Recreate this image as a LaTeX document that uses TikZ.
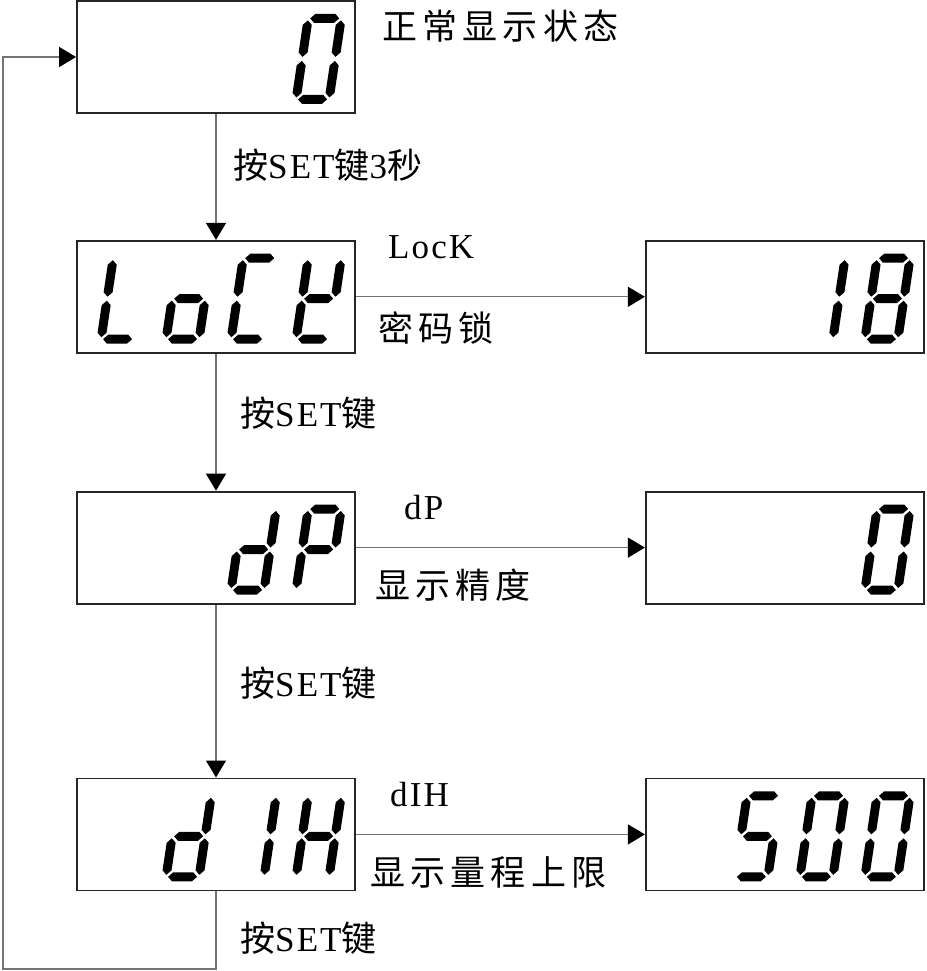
\documentclass[tikz,border=0pt]{standalone}
\usepackage{fontspec}
\setmainfont{Liberation Serif}[LetterSpace=6]
\newfontfamily\cjk{Noto Sans CJK SC}[LetterSpace=15]
\usepackage{tikz}
\usetikzlibrary{positioning,arrows.meta}
\tikzset{>={Triangle[length=17pt,width=20pt,color=black]}}

% one segment of the display, horizontal and vertical
\newcommand\hseg[3]{\fill (#1,#3) -- ++(4.5,4.5) -- ({#2-4.5},{#3+4.5}) -- (#2,#3) -- ({#2-4.5},{#3-4.5}) -- ({#1+4.5},{#3-4.5}) -- cycle;}
\newcommand\vseg[3]{\fill (#1,#2) -- ++(4.5,4.5) -- ({#1+4.5},{#3-4.5}) -- (#1,#3) -- ({#1-4.5},{#3-4.5}) -- ({#1-4.5},{#2+4.5}) -- cycle;}
\newcommand\lcdsega{\hseg{6.5}{35.5}{85.5}}
\newcommand\lcdsegb{\vseg{37.5}{47}{83.5}}
\newcommand\lcdsegc{\vseg{37.5}{6.5}{43}}
\newcommand\lcdsegd{\hseg{6.5}{35.5}{4.5}}
\newcommand\lcdsege{\vseg{4.5}{6.5}{43}}
\newcommand\lcdsegf{\vseg{4.5}{47}{83.5}}
\newcommand\lcdsegg{\hseg{6.5}{35.5}{45}}
% #1 box, #2 place counted from the right, #3 lit segments
\newcommand\lcd[3]{%
  \begin{scope}[shift={(#1.south east)},xshift={-65pt-65pt*#2},yshift=10pt,xslant=0.15]
    \foreach \s in {#3}{\csname lcdseg\s\endcsname}
  \end{scope}}
\newcommand\presset{{\cjk 按}SET{\cjk 键}}

\begin{document}
\begin{tikzpicture}[x=1pt,y=1pt,
lcdbox/.style={rectangle, draw=black!85, line width=1.8pt, minimum width=278pt, minimum height=112pt},
lbl/.style={anchor=west, inner sep=0pt, font=\fontsize{35}{40}\selectfont},
flow/.style={->, draw=black!55, line width=1.2pt},
]
\useasboundingbox (0,0) rectangle (926,-971);
%Nodes
\node[lcdbox](disp0) at (216,-57){};
\node[lcdbox](lock)[below=126pt of disp0]{};
\node[lcdbox](dp)[below=137pt of lock]{};
\node[lcdbox](dih)[below=173pt of dp]{};
\node[lcdbox](pass)[right=289pt of lock]{};
\node[lcdbox](prec)[right=289pt of dp]{};
\node[lcdbox](range)[right=289pt of dih]{};
\coordinate (loopcorner) at (3,-969);

%Digits
\lcd{disp0}{0}{a,b,c,d,e,f}
\lcd{lock}{3}{d,e,f}
\lcd{lock}{2}{c,d,e,g}
\lcd{lock}{1}{a,d,e,f}
\lcd{lock}{0}{b,d,e,f,g}
\lcd{pass}{1}{b,c}
\lcd{pass}{0}{a,b,c,d,e,f,g}
\lcd{dp}{1}{b,c,d,e,g}
\lcd{dp}{0}{a,b,e,f,g}
\lcd{prec}{0}{a,b,c,d,e,f}
\lcd{dih}{2}{b,c,d,e,g}
\lcd{dih}{1}{b,c}
\lcd{dih}{0}{b,c,e,f,g}
\lcd{range}{2}{a,c,d,f,g}
\lcd{range}{1}{a,b,c,d,e,f}
\lcd{range}{0}{a,b,c,d,e,f}

%Labels
\node[lbl](normaltxt) at (382,-26){\cjk 正常显示状态};
\node[lbl](hold3s) at (233,-165){{\cjk 按}SET{\cjk 键}3{\cjk 秒}};
\node[lbl](locktxt) at (388,-247){LocK};
\node[lbl](pwdtxt) at (378,-328){\cjk 密码锁};
\node[lbl](set1) at (240,-413){\presset};
\node[lbl](dptxt) at (404,-508){dP};
\node[lbl](prectxt) at (375,-585){\cjk 显示精度};
\node[lbl](set2) at (240,-683){\presset};
\node[lbl](dihtxt) at (390,-795){dIH};
\node[lbl](rangetxt) at (370,-872){\cjk 显示量程上限};
\node[lbl](set3) at (240,-938){\presset};

%Lines
\draw[flow] (disp0) -- (lock);
\draw[flow] (lock) -- (dp);
\draw[flow] (dp) -- (dih);
\draw[flow] (lock) -- (pass);
\draw[flow] (dp) -- (prec);
\draw[flow] (dih) -- (range);
\draw[flow] (dih.south) |- (loopcorner) |- (disp0.west);
\end{tikzpicture}
\end{document}
